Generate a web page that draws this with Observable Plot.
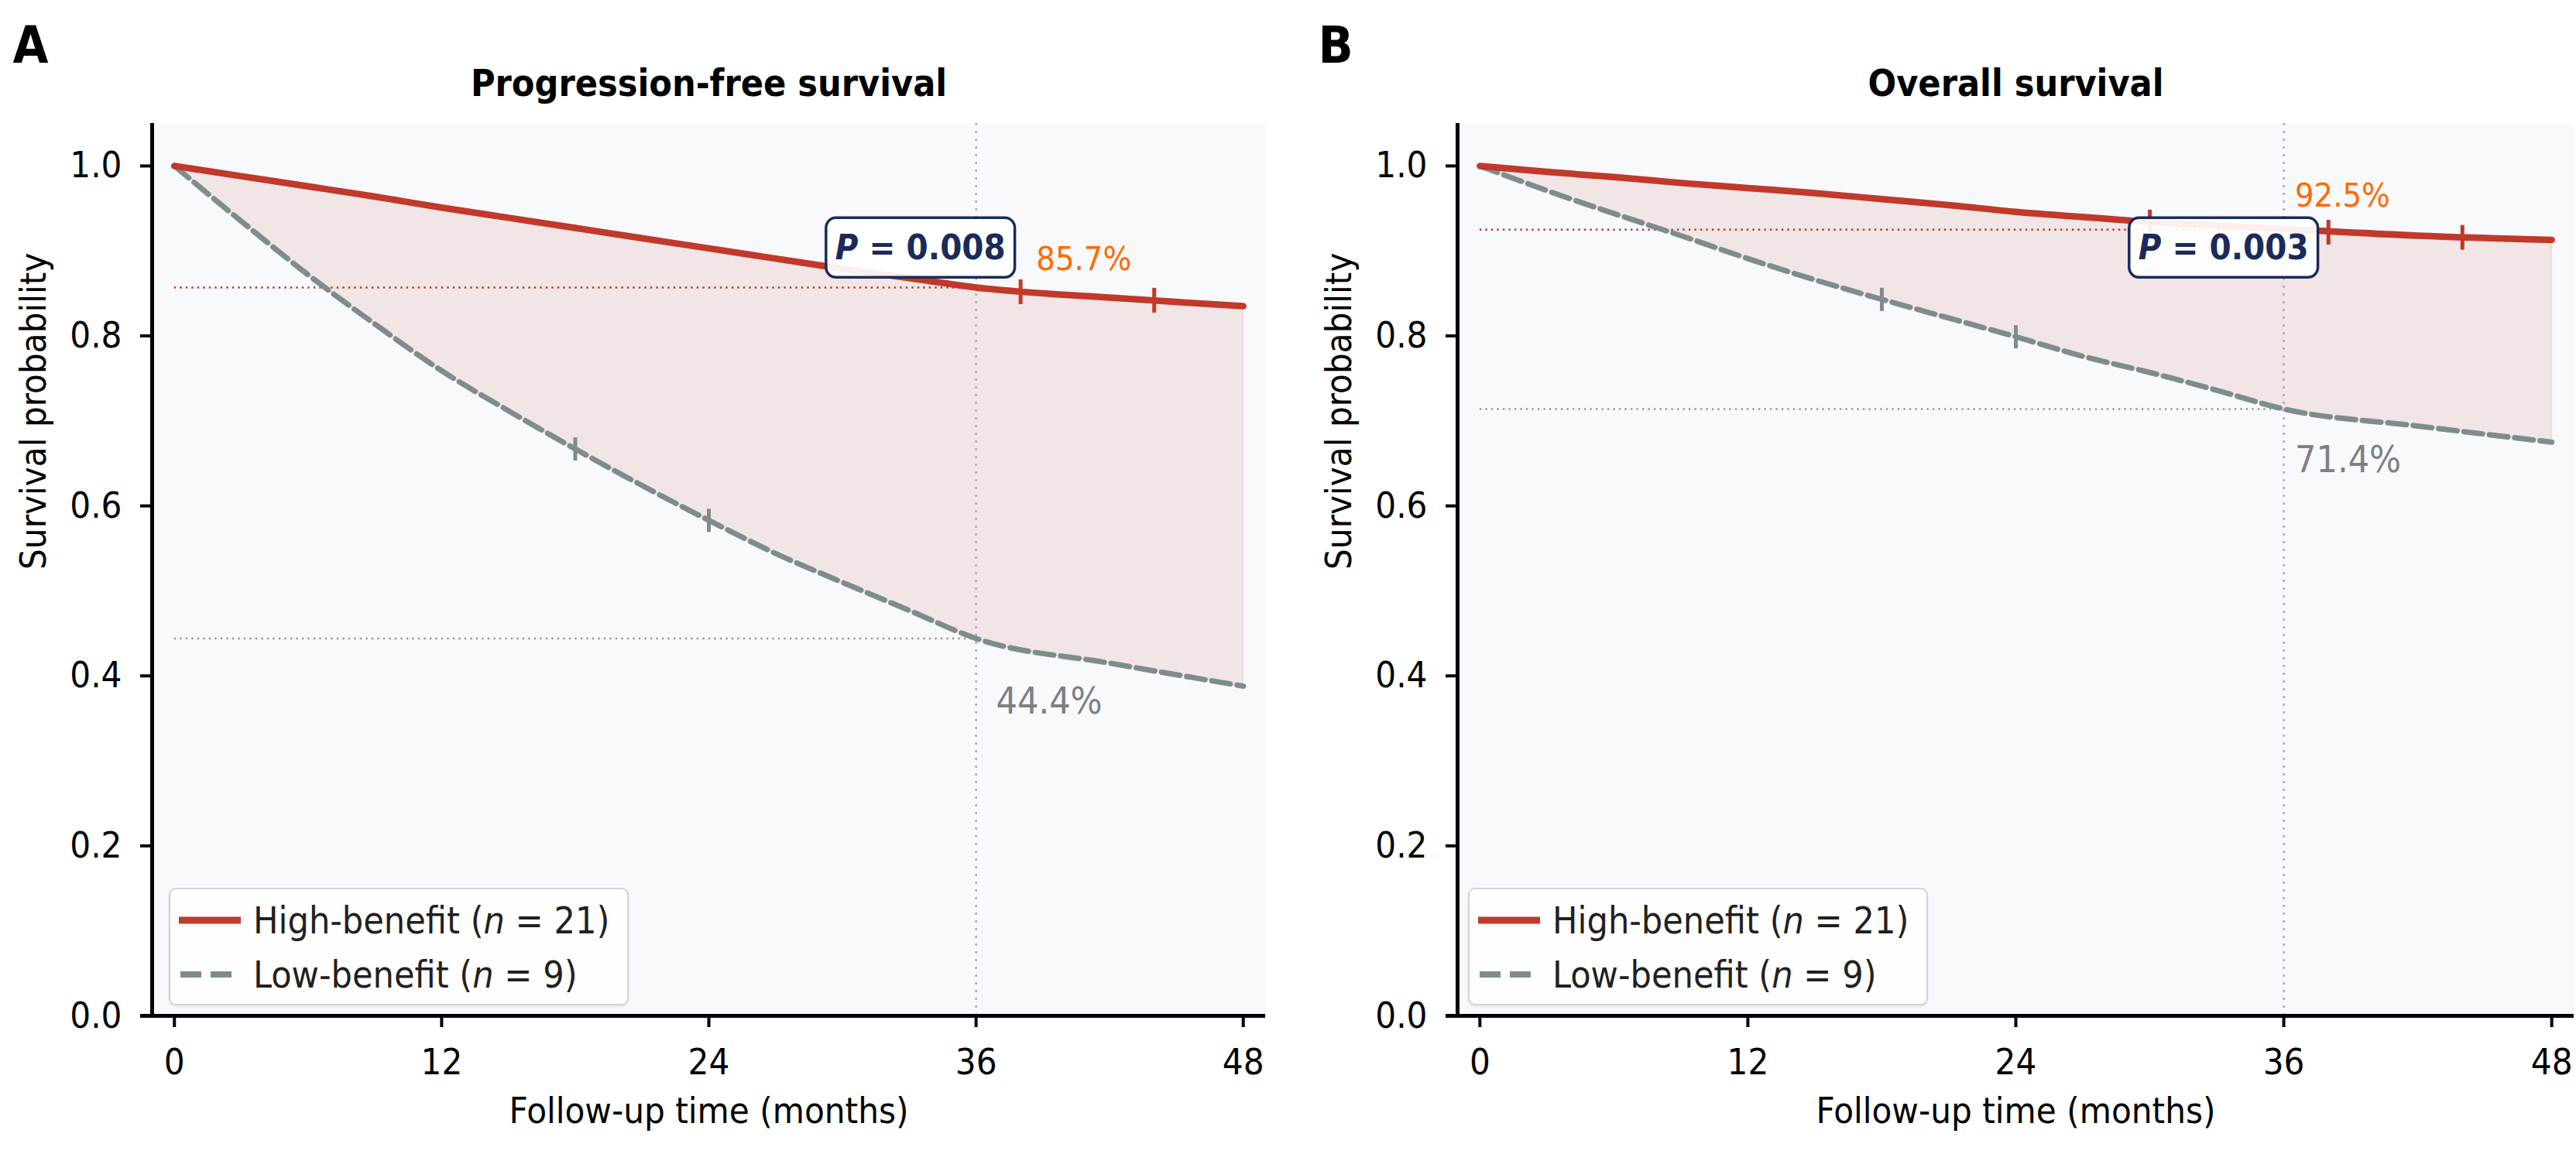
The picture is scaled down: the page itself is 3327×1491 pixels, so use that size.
<!DOCTYPE html>
<html>
<head>
<meta charset="utf-8">
<script src="https://cdn.jsdelivr.net/npm/d3@7"></script>
<script src="https://cdn.jsdelivr.net/npm/@observablehq/plot@0.6"></script>
<style>
  html, body { margin: 0; padding: 0; background: #ffffff; }
  #root { position: relative; width: 3327px; height: 1491px; overflow: hidden;
          font-family: "DejaVu Sans Condensed", "DejaVu Sans", sans-serif; font-stretch: condensed; }
  .panel { position: absolute; top: 0; height: 1491px; }
  .panel svg { display: block; }
  .legend { position: absolute; top: 1147px; width: 594px; height: 152px; box-sizing: border-box;
            background: rgba(255,255,255,0.85); border: 2px solid #d4d4d4; border-radius: 9px;
            box-shadow: 0 2px 3px rgba(0,0,0,0.08); }
  .legend .row { position: absolute; left: 0; height: 60px; display: flex; align-items: center;
                 font-size: 48px; color: #231f20; white-space: nowrap; }
  .legend .row svg { margin-left: 9px; margin-right: 14px; }
</style>
</head>
<body>
<div id="root"></div>
<script>
// ---------------- data ----------------
const months   = [0, 3, 6, 9, 12, 15, 18, 21, 24, 27, 30, 33, 36, 42, 48];
// Progression-free survival
const pfsHigh  = [1.000, 0.988, 0.976, 0.964, 0.951, 0.939, 0.927, 0.915, 0.903, 0.891, 0.879, 0.868, 0.857, 0.845, 0.835];
const pfsLow   = [1.000, 0.935, 0.872, 0.814, 0.759, 0.712, 0.667, 0.624, 0.583, 0.544, 0.510, 0.477, 0.444, 0.415, 0.388];
const pfsHighCensorT = [38, 44];
const pfsHighCensorS = [0.852, 0.842];
const pfsLowCensorT  = [18, 24];
const pfsLowCensorS  = [0.667, 0.583];
// Overall survival
const osHigh   = [1.000, 0.993, 0.987, 0.980, 0.974, 0.968, 0.961, 0.954, 0.946, 0.940, 0.934, 0.930, 0.926, 0.918, 0.913];
const osLow    = [1.000, 0.971, 0.944, 0.918, 0.891, 0.866, 0.843, 0.821, 0.799, 0.776, 0.757, 0.736, 0.714, 0.694, 0.675];
const osHighCensorT = [30, 38, 44];
const osHighCensorS = [0.934, 0.922, 0.916];
const osLowCensorT  = [18, 24];
const osLowCensorS  = [0.843, 0.799];

const landmark = 36;
const pfsLandmark = [0.857, 0.444];
const osLandmark  = [0.925, 0.714];
const pfsLabels = ["85.7%", "44.4%"];
const osLabels  = ["92.5%", "71.4%"];
const pfsLabelX = [38.7, 36.9];
const pfsLabelY = [0.890, 0.370];
const osLabelX  = [36.5, 36.5];
const osLabelY  = [0.965, 0.654];
const pfsP = ["P = 0.008"], pfsPX = [33.5], pfsPY = [0.903];
const osP  = ["P = 0.003"], osPX  = [33.3], osPY  = [0.903];

const groups = ["High-benefit", "Low-benefit"];
const groupN = [21, 9];
const titles = ["Progression-free survival", "Overall survival"];
const letters = ["A", "B"];

const xTicks = [0, 12, 24, 36, 48];
const yTicks = [0, 0.2, 0.4, 0.6, 0.8, 1.0];
const xDomain = [-1, 49];
const yDomain = [0, 1.05];
const xTitle = "Follow-up time (months)";
const yTitle = "Survival probability";

// ---------------- styling ----------------
const RED = "#c0392b";
const GRAY = "#7f8c8d";
const ORANGE = "#ff6a00";
const NAVY = "#1b2a5a";
const FONT = '"DejaVu Sans Condensed", "DejaVu Sans", sans-serif';

const vbar = { draw(ctx, size) { const h = Math.sqrt(size / Math.PI); ctx.moveTo(0, -h); ctx.lineTo(0, h); } };

function makePanel(cfg) {
  const rows = months.map((t, i) => ({ t, high: cfg.high[i], low: cfg.low[i] }));
  const cHigh = cfg.highCT.map((t, i) => ({ t, s: cfg.highCS[i] }));
  const cLow = cfg.lowCT.map((t, i) => ({ t, s: cfg.lowCS[i] }));
  const refs = [
    { y: cfg.landmarkS[0], x1: 0, x2: landmark, c: RED },
    { y: cfg.landmarkS[1], x1: 0, x2: landmark, c: "#9a9a9a" }
  ];
  const pctLabels = cfg.labels.map((s, i) => ({ s, x: cfg.labelX[i], y: cfg.labelY[i] }));
  const pAnn = cfg.p.map((s, i) => ({ s, x: cfg.pX[i], y: cfg.pY[i] }));

  return Plot.plot({
    width: cfg.width, height: 1491,
    marginTop: 159, marginBottom: 179, marginLeft: cfg.ml, marginRight: cfg.mr,
    x: { domain: xDomain },
    y: { domain: yDomain },
    style: { fontFamily: FONT, fontSize: "48px", background: "transparent", color: "#000", overflow: "visible", fontStretch: "condensed" },
    marks: [
      Plot.frame({ fill: "#f7f9fc", stroke: "none" }),
      Plot.areaY(rows, { x: "t", y1: "low", y2: "high", fill: RED, fillOpacity: 0.1, stroke: RED, strokeOpacity: 0.1, strokeWidth: 2, curve: "monotone-x" }),
      Plot.ruleX([landmark], { stroke: "#a8adb6", strokeWidth: 2.5, strokeDasharray: "3,7" }),
      Plot.ruleY(refs, { y: "y", x1: "x1", x2: "x2", stroke: "c", strokeWidth: 2.5, strokeDasharray: "2.5,5" }),
      Plot.line(rows, { x: "t", y: "low", stroke: GRAY, strokeWidth: 7, strokeDasharray: "24,9", curve: "monotone-x" }),
      Plot.line(rows, { x: "t", y: "high", stroke: RED, strokeWidth: 8.5, curve: "monotone-x" }),
      Plot.dot(cLow, { x: "t", y: "s", symbol: vbar, r: 15, fill: "none", stroke: GRAY, strokeWidth: 5 }),
      Plot.dot(cHigh, { x: "t", y: "s", symbol: vbar, r: 16, fill: "none", stroke: RED, strokeWidth: 5 }),
      Plot.ruleX([xDomain[0]], { stroke: "#000", strokeWidth: 5 }),
      Plot.ruleY([0], { stroke: "#000", strokeWidth: 5, x1: xDomain[0], x2: xDomain[1], insetLeft: -15 }),
      Plot.axisX({ ticks: xTicks, tickSize: 15, tickPadding: 27, strokeWidth: 4, fontSize: 47, label: null }),
      Plot.axisY({ ticks: yTicks, tickSize: 15, tickPadding: 24, strokeWidth: 4, fontSize: 47, tickFormat: ".1f", label: null }),
      Plot.text(pctLabels.slice(0, 1), { x: "x", y: "y", text: "s", textAnchor: "start", fill: ORANGE, fontSize: 43 }),
      Plot.text(pctLabels.slice(1), { x: "x", y: "y", text: "s", textAnchor: "start", fill: "#808080", fontSize: 48 }),
      Plot.text(pAnn, { x: "x", y: "y", text: "s", fill: NAVY, fontSize: 45, fontWeight: "bold", className: "pval" }),
      Plot.text([xTitle], { frameAnchor: "bottom", dy: 138, fontSize: 47 }),
      Plot.text([yTitle], { frameAnchor: "left", rotate: -90, dx: -153, fontSize: 47 }),
      Plot.text([cfg.title], { frameAnchor: "top", dy: -36, lineAnchor: "bottom", fontSize: 48, fontWeight: "bold" }),
      Plot.text([cfg.letter], { frameAnchor: "top-left", textAnchor: "start", dx: -180, dy: -79, lineAnchor: "bottom", fontSize: 66, fontWeight: "bold" })
    ]
  });
}

function boxP(svg, labels) {
  const ns = "http://www.w3.org/2000/svg";
  Array.from(svg.querySelectorAll("text")).filter(t => labels.includes(t.textContent)).forEach(t => {
    const label = t.textContent;
    while (t.firstChild) t.removeChild(t.firstChild);
    const ts = document.createElementNS(ns, "tspan");
    ts.setAttribute("font-style", "italic");
    ts.textContent = label.slice(0, 1);
    t.appendChild(ts);
    t.appendChild(document.createTextNode(label.slice(1)));
    const b = t.getBBox();
    const r = document.createElementNS(ns, "rect");
    const px = 12, py = 12;
    r.setAttribute("x", b.x - px);
    r.setAttribute("y", b.y - py);
    r.setAttribute("width", b.width + 2 * px);
    r.setAttribute("height", b.height + 2 * py);
    r.setAttribute("rx", 13);
    r.setAttribute("fill", "#ffffff");
    r.setAttribute("fill-opacity", 0.92);
    r.setAttribute("stroke", NAVY);
    r.setAttribute("stroke-width", 3.5);
    const tr = t.getAttribute("transform");
    if (tr) r.setAttribute("transform", tr);
    t.parentNode.insertBefore(r, t);
  });
}

function legendHTML(ns) {
  return `
  <div class="row" style="top:10px">
    <svg width="84" height="20"><line x1="2" x2="82" y1="10" y2="10" stroke="${RED}" stroke-width="9"/></svg>
    <span>${groups[0]} (<i>n</i> = ${ns[0]})</span>
  </div>
  <div class="row" style="top:80px">
    <svg width="84" height="20"><line x1="4" x2="82" y1="10" y2="10" stroke="${GRAY}" stroke-width="8" stroke-dasharray="27,12"/></svg>
    <span>${groups[1]} (<i>n</i> = ${ns[1]})</span>
  </div>`;
}

const root = document.getElementById("root");
const panels = [
  { left: 0, width: 1660, ml: 196, mr: 26, legendLeft: 218, title: titles[0], letter: letters[0],
    high: pfsHigh, low: pfsLow, highCT: pfsHighCensorT, highCS: pfsHighCensorS, lowCT: pfsLowCensorT, lowCS: pfsLowCensorS,
    landmarkS: pfsLandmark, labels: pfsLabels, labelX: pfsLabelX, labelY: pfsLabelY, p: pfsP, pX: pfsPX, pY: pfsPY },
  { left: 1660, width: 1667, ml: 222, mr: 3, legendLeft: 236, title: titles[1], letter: letters[1],
    high: osHigh, low: osLow, highCT: osHighCensorT, highCS: osHighCensorS, lowCT: osLowCensorT, lowCS: osLowCensorS,
    landmarkS: osLandmark, labels: osLabels, labelX: osLabelX, labelY: osLabelY, p: osP, pX: osPX, pY: osPY }
];

panels.forEach(cfg => {
  const div = document.createElement("div");
  div.className = "panel";
  div.style.left = cfg.left + "px";
  div.style.width = cfg.width + "px";
  root.appendChild(div);
  const svg = makePanel(cfg);
  div.appendChild(svg);
  boxP(svg, cfg.p);
  const lg = document.createElement("div");
  lg.className = "legend";
  lg.style.left = cfg.legendLeft + "px";
  lg.innerHTML = legendHTML(groupN);
  div.appendChild(lg);
});
</script>
</body>
</html>
